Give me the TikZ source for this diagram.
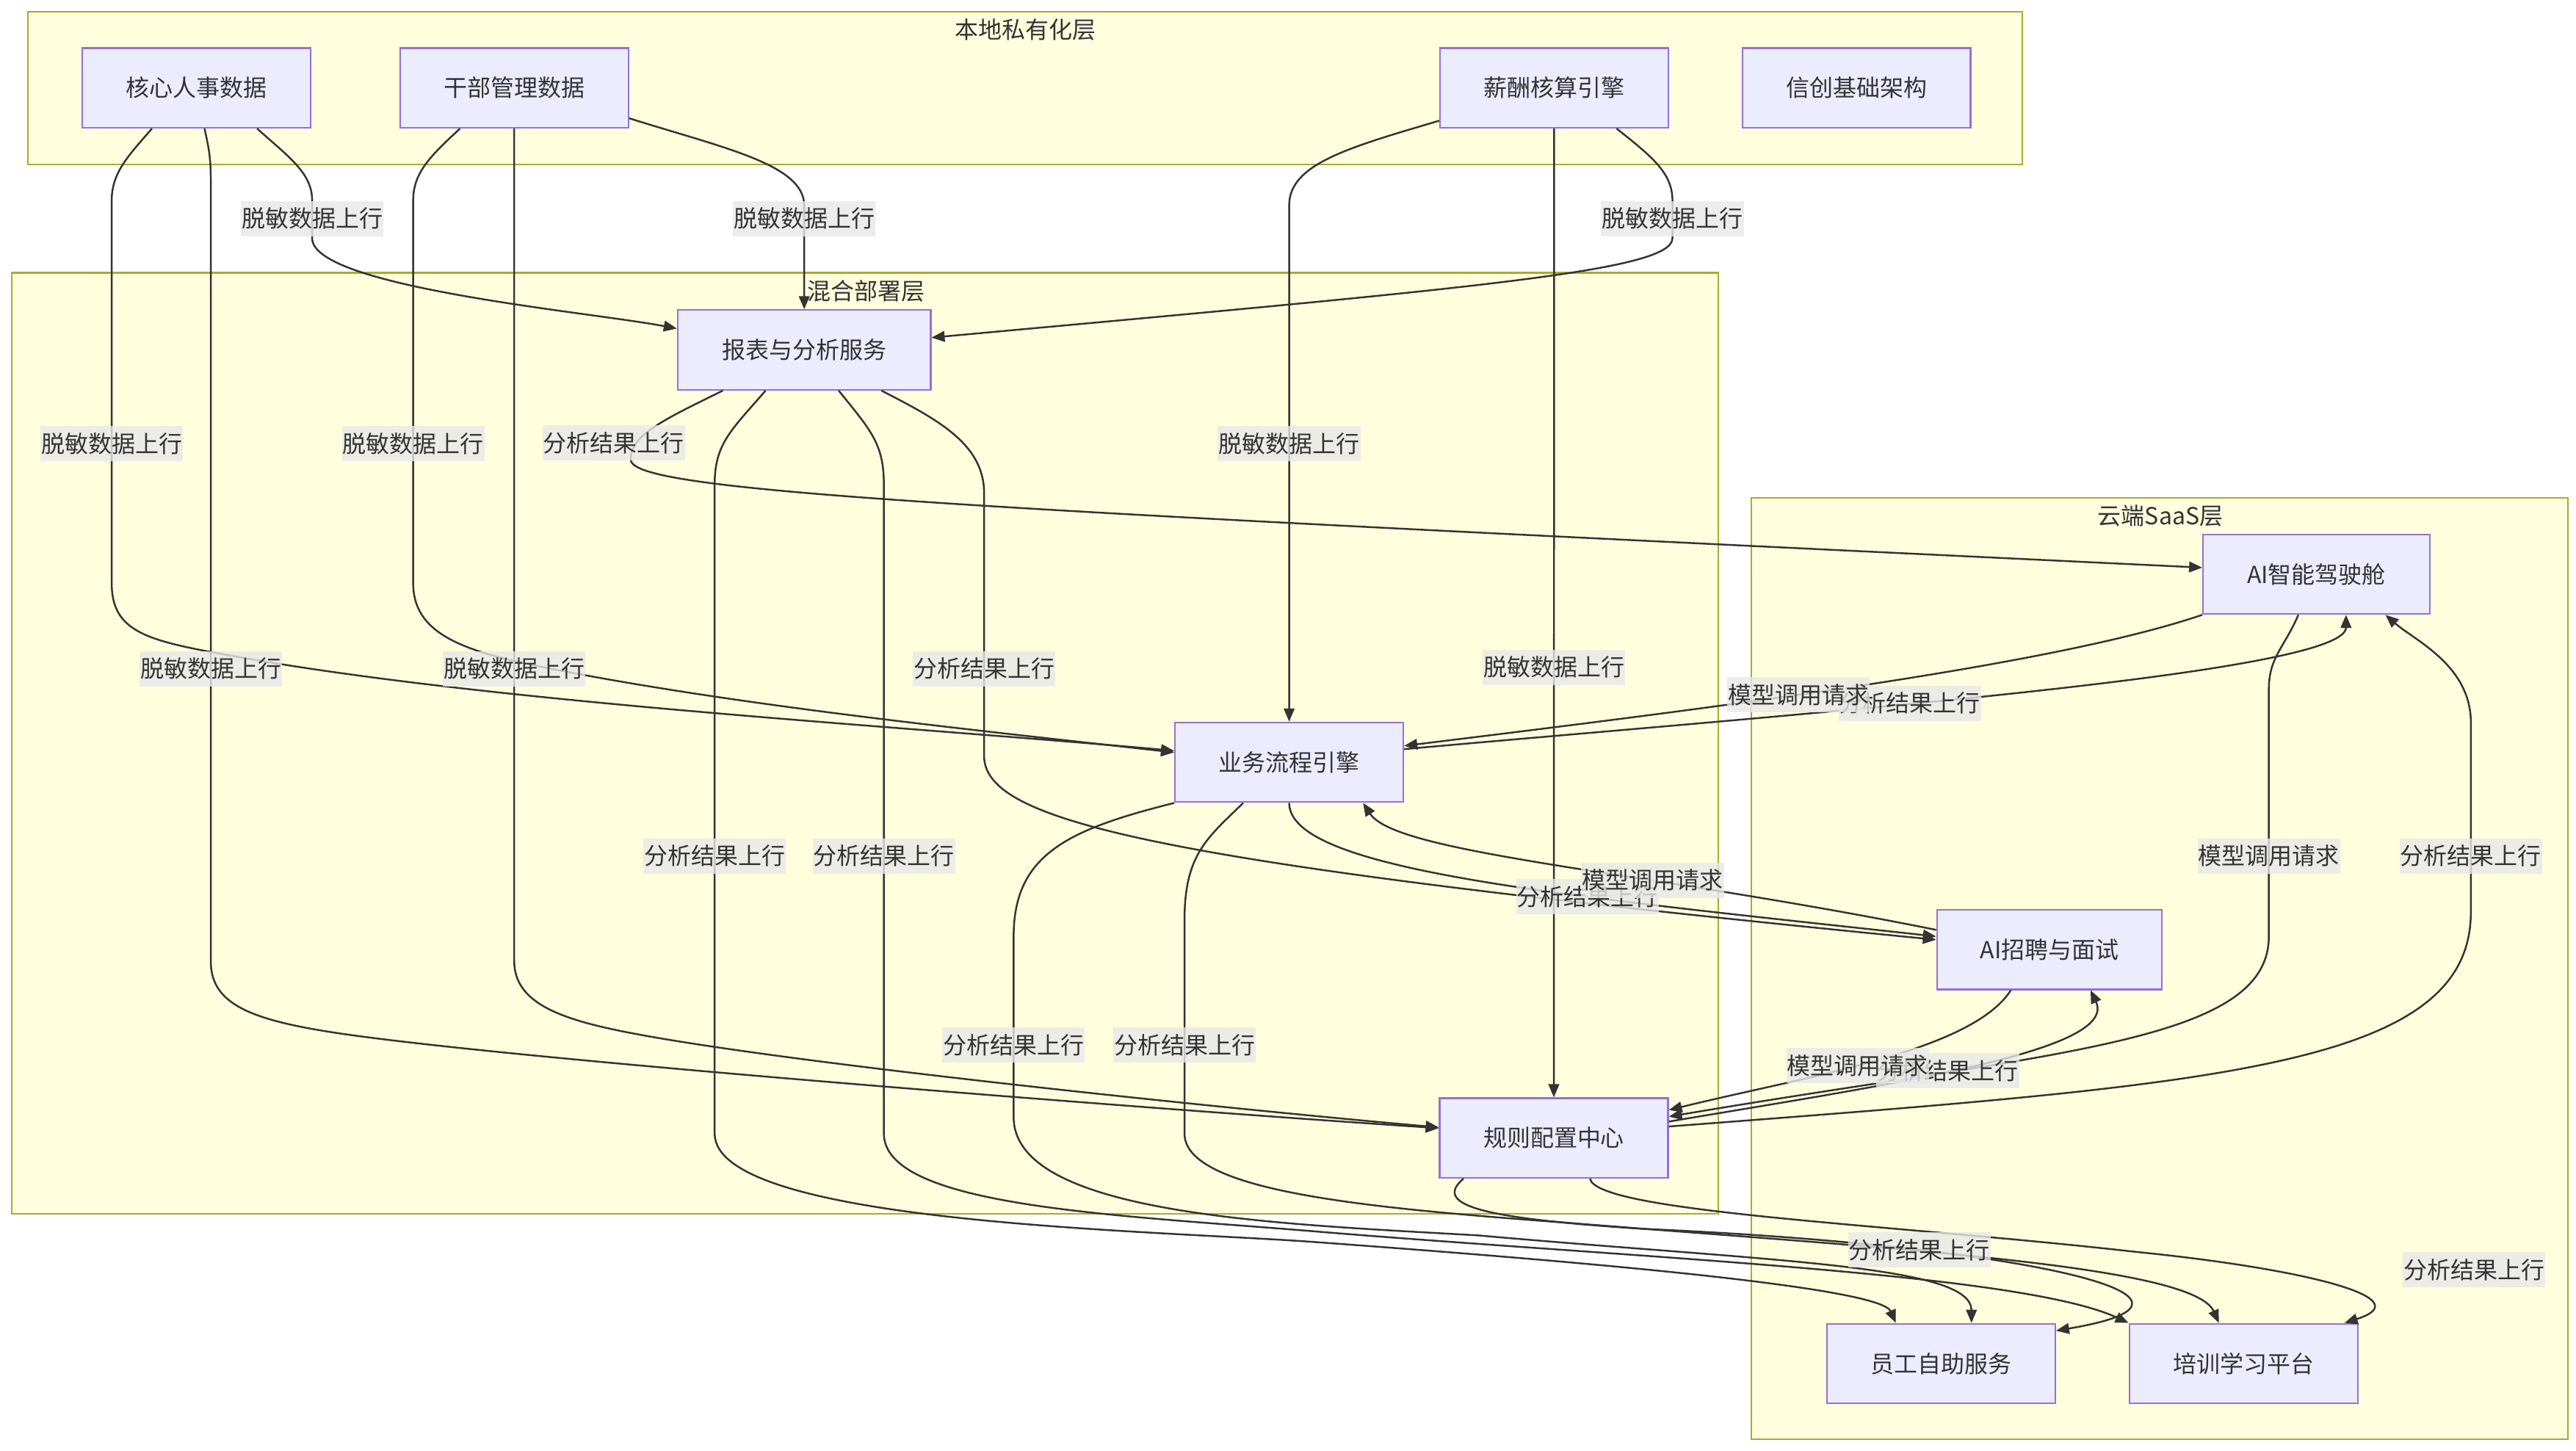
\documentclass[tikz,border=0pt]{standalone}
\usepackage{fontspec}
\setmainfont{Noto Sans CJK SC}
\usetikzlibrary{arrows.meta}
\definecolor{nodefill}{HTML}{ECECFF}
\definecolor{nodeline}{HTML}{9370DB}
\definecolor{layerfill}{HTML}{FFFFDE}
\definecolor{layerline}{HTML}{AAAA33}
\definecolor{linkcol}{HTML}{333333}
\definecolor{lblfill}{HTML}{E8E8E8}

\begin{document}
\begin{tikzpicture}
  [x=1pt,y=-1pt,
   every node/.style={font=\fontsize{14.3}{17}\selectfont,text=linkcol},
   box/.style={draw=nodeline,fill=nodefill,line width=1pt,minimum width=139pt,minimum height=48.5pt,inner sep=0pt},
   layer/.style={draw=layerline,fill=layerfill,line width=1pt},
   link/.style={draw=linkcol,line width=1.1pt,-{Triangle[length=8pt,width=6.5pt]}},
   lbl/.style={fill=lblfill,fill opacity=0.8,text opacity=1,inner xsep=0.5pt,inner ysep=0pt,minimum height=21.5pt}]

  \useasboundingbox (0,0) rectangle (1568,883.2);
  \fill[white] (0,0) rectangle (1568,883.2);

  \draw[layer] (17,7) rectangle (1231,100);
  \draw[layer] (7,166) rectangle (1046,739);
  \draw[layer] (1066,303) rectangle (1563,876);
  \node (tlocal)  at (624,18)   {本地私有化层};
  \node (thybrid) at (527,177)  {混合部署层};
  \node (tcloud)  at (1315,314) {云端SaaS层};

  \node[box] (hr)      at (119.5,53.5)  {核心人事数据};
  \node[box] (cadre)   at (313,53.5)    {干部管理数据};
  \node[box] (pay)     at (946,53.5)    {薪酬核算引擎};
  \node[box] (xc)      at (1130,53.5)   {信创基础架构};
  \node[box,minimum width=154pt] (report) at (489.5,213) {报表与分析服务};
  \node[box] (flow)    at (784.7,464)   {业务流程引擎};
  \node[box] (rule)    at (945.8,692.7) {规则配置中心};
  \node[box,minimum width=138pt] (cockpit) at (1410,349.5) {AI智能驾驶舱};
  \node[box,minimum width=137pt] (recruit) at (1247.5,578) {AI招聘与面试};
  \node[box] (self)    at (1181.5,830)  {员工自助服务};
  \node[box] (train)   at (1365.6,830)  {培训学习平台};

  % data going up
  \draw[link] ([xshift=37pt]hr.south) .. controls (175,95) and (190,105) .. (190,122) -- (190,133) coordinate (d1) -- (190,145) .. controls (190,175) and (360,190) .. ([yshift=13pt]report.west);
  \draw[link] ([yshift=-18.5pt]cadre.east) .. controls (440,90) and (489.5,100) .. (489.5,125) -- (489.5,133) coordinate (d2) -- (report.north);
  \draw[link] ([xshift=38pt]pay.south) .. controls (1005,95) and (1018,105) .. (1018,122) -- (1018,133) coordinate (d3) -- (1018,145) .. controls (1018,165) and (900,175) .. ([yshift=7.5pt]report.east);
  \draw[link] ([xshift=-27pt]hr.south) .. controls (78,95) and (68,105) .. (68,122) -- (68,270) coordinate (d4) -- (68,355) .. controls (68,385) and (90,390) .. (140,399) .. controls (300,428) and (550,442) .. ([yshift=7pt]flow.west);
  \draw[link] ([xshift=-33pt]cadre.south) .. controls (262,95) and (251.5,105) .. (251.5,122) -- (251.5,270) coordinate (d5) -- (251.5,355) .. controls (251.5,385) and (280,396) .. (330,406) .. controls (450,430) and (600,445) .. ([yshift=6pt]flow.west);
  \draw[link] ([yshift=-20pt]pay.west) .. controls (820,90) and (784.7,100) .. (784.7,125) -- (784.7,270) coordinate (d6) -- (flow.north);
  \draw[link] ([xshift=5pt]hr.south) .. controls (127,90) and (128.3,95) .. (128.3,110) -- (128.3,407) coordinate (d7) -- (128.3,585) .. controls (128.3,610) and (150,620) .. (200,628) .. controls (300,644) and (700,675) .. ([yshift=6pt]rule.west);
  \draw[link] (cadre.south) -- (313,407) coordinate (d8) -- (313,585) .. controls (313,610) and (340,620) .. (380,628) .. controls (480,648) and (780,678) .. ([yshift=6.5pt]rule.west);
  \draw[link] (pay.south) -- coordinate[pos=0.556] (d9) (rule.north);

  % results going up
  \draw[link] ([xshift=-49.5pt]report.south) .. controls (405,255) and (383,265) .. (384,280) coordinate (a1) at (373.6,269.5) .. controls (385,300) and (600,310) .. ([yshift=4pt]cockpit.west);
  \draw[link] ([xshift=47pt]report.south) .. controls (570,255) and (599,270) .. (599,300) -- (599,407) coordinate (a2) -- (599,460) .. controls (599,500) and (700,525) .. ([yshift=6pt]recruit.west);
  \draw[link] ([xshift=-23.5pt]report.south) .. controls (445,262) and (435,270) .. (435,295) -- (435,521) coordinate (a3) -- (435,690) .. controls (435,745) and (700,748.7) .. (800,756) .. controls (1000,770.6) and (1145,785) .. ([xshift=-27.5pt]self.north);
  \draw[link] ([xshift=21pt]report.south) .. controls (530,262) and (538,270) .. (538,295) -- (538,521) coordinate (a4) -- (538,690) .. controls (538,735) and (681,739.5) .. (801,749.6) .. controls (1000,766) and (1230,775) .. (train.north west);
  \draw[link] ([yshift=8pt]flow.east) .. controls (1100,434) and (1428,410) .. ([xshift=18pt]cockpit.south) coordinate[pos=0.4] (a5);
  \draw[link] (flow.south) .. controls (784.7,530) and (950,545) .. ([yshift=8pt]recruit.west) coordinate[pos=0.65] (a6);
  \draw[link] ([yshift=7pt]rule.east) .. controls (1350,660) and (1504,650) .. (1504,555) -- (1504,521) coordinate (a7) -- (1504,440) .. controls (1504,405) and (1470,390) .. ([xshift=42pt]cockpit.south);
  \draw[link] ([yshift=10pt]rule.east) .. controls (1150,660) and (1290,640) .. ([xshift=25pt]recruit.south) coordinate[pos=0.45] (a8);
  \draw[link] ([xshift=-55pt]rule.south) .. controls (870,735) and (910,742) .. (1000,748) .. controls (1230,758) and (1370,790) .. ([yshift=20pt]self.east) coordinate[pos=0.28] (a9);
  \draw[link] ([xshift=22pt]rule.south) .. controls (972,738) and (1150,745) .. (1300,762) .. controls (1400,772) and (1475,790) .. ([xshift=61.5pt]train.north) coordinate (a10) at (1506,773);
  \draw[link] (flow.south west) .. controls (650,505) and (617,520) .. (617,570) -- (617,636) coordinate (a11) -- (617,680) .. controls (617,740) and (780,745) .. (900,752) .. controls (1080,768) and (1200,770) .. ([xshift=18.5pt]self.north);
  \draw[link] ([xshift=-28pt]flow.south) .. controls (735,510) and (721,520) .. (721,560) -- (721,636) coordinate (a12) -- (721,690) .. controls (721,725) and (830,735) .. (950,744) .. controls (1150,760) and (1335,770) .. ([xshift=-15pt]train.north);

  % model calls
  \draw[link] (cockpit.south west) .. controls (1250,405) and (1050,430) .. ([yshift=10pt]flow.east) coordinate[pos=0.58] (m1);
  \draw[link] ([xshift=-11pt]cockpit.south) .. controls (1390,395) and (1381,400) .. (1381,420) -- (1381,521) coordinate (m2) -- (1381,570) .. controls (1381,635) and (1250,640) .. ([yshift=13pt]rule.east);
  \draw[link] ([yshift=12pt]recruit.west) .. controls (1000,530) and (850,520) .. ([xshift=45pt]flow.south) coordinate[pos=0.35] (m3);
  \draw[link] ([xshift=-23.5pt]recruit.south) .. controls (1200,640) and (1100,655) .. ([yshift=17pt]rule.east) coordinate[pos=0.55] (m4);

  \foreach \i in {1,...,9}
    \node[lbl] (td\i) at (d\i) {脱敏数据上行};
  \foreach \i in {1,...,12}
    \node[lbl] (ta\i) at (a\i) {分析结果上行};
  \foreach \i in {1,...,4}
    \node[lbl] (tm\i) at (m\i) {模型调用请求};

\end{tikzpicture}
\end{document}
